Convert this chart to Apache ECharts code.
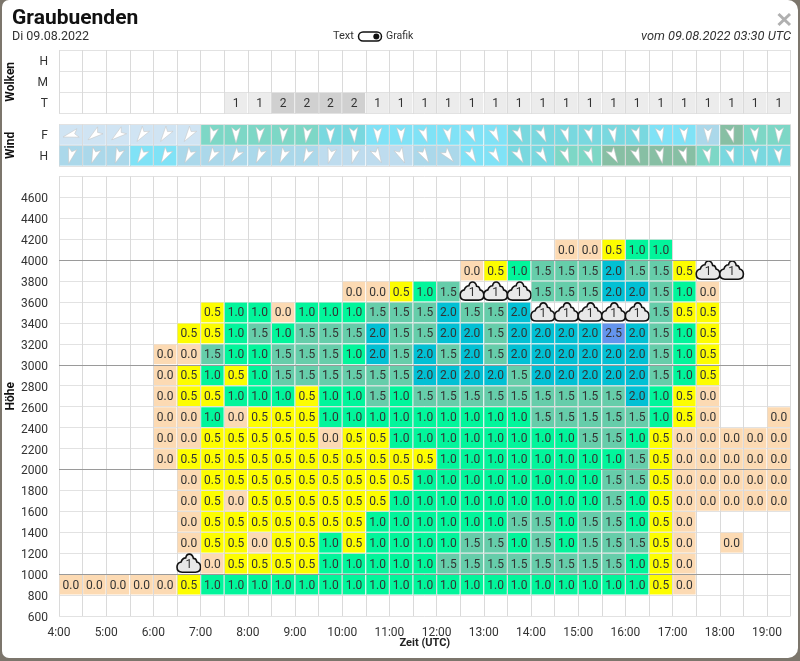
<!DOCTYPE html>
<html>
<head>
<meta charset="utf-8">
<title>Graubuenden</title>
<script src="https://cdn.jsdelivr.net/npm/echarts@6/dist/echarts.min.js"></script>
<style>
  html, body { margin: 0; padding: 0; width: 800px; height: 661px; overflow: hidden; background: #7c766c; }
  #card { position: absolute; left: 2px; top: 0; width: 796px; height: 658px; background: #fff; border-radius: 7px 10px 10px 7px; }
  #main { position: absolute; left: 0; top: 0; width: 800px; height: 661px; }
</style>
</head>
<body>
<div id="card"></div>
<div id="main"></div>
<script>
var n = null, C = "c";

// half hour columns from 4:00 to 19:30, rows named by their lower height
var h800  = [0,0,0,0,0,.5,1,1,1,1,1,1,1,1,1,1,1,1,1,1,1,1,1,1,1,.5,0,n,n,n,n];
var h1000 = [n,n,n,n,n,C,0,.5,.5,.5,.5,1,1,1,1,1,1.5,1.5,1.5,1.5,1.5,1.5,1.5,1.5,1,.5,0,n,n,n,n];
var h1200 = [n,n,n,n,n,0,.5,.5,0,.5,.5,1,.5,1,1,1,1,1.5,1.5,1,1.5,1,1.5,1.5,1.5,.5,0,n,0,n,n];
var h1400 = [n,n,n,n,n,0,.5,.5,.5,.5,.5,.5,.5,1,1,1,1,1,1,1.5,1.5,1,1.5,1.5,1,.5,0,n,n,n,n];
var h1600 = [n,n,n,n,n,0,.5,0,.5,.5,.5,.5,.5,.5,1,1,1,1,1,1,1,1,1,1.5,1,.5,0,0,0,0,0];
var h1800 = [n,n,n,n,n,0,.5,.5,.5,.5,.5,.5,.5,.5,.5,1,1,1,1,1,1,1,1,1.5,1.5,.5,0,0,0,0,0];
var h2000 = [n,n,n,n,0,.5,.5,.5,.5,.5,.5,.5,.5,.5,.5,.5,1,1,1,1,1,1,1,1,1.5,.5,0,0,0,0,0];
var h2200 = [n,n,n,n,0,0,.5,.5,.5,.5,.5,0,.5,.5,1,1,1,1,1,1,1,1,1.5,1.5,1,.5,0,0,0,0,0];
var h2400 = [n,n,n,n,0,0,1,0,.5,.5,.5,1,1,1,1,1,1,1,1,1,1.5,1.5,1.5,1.5,1.5,1,.5,0,n,n,0];
var h2600 = [n,n,n,n,0,.5,.5,1,1,1,.5,1,1,1.5,1,1.5,1.5,1.5,1.5,1.5,1.5,1.5,1.5,1.5,2,1,.5,0,n,n,n];
var h2800 = [n,n,n,n,0,.5,1,.5,1,1.5,1.5,1.5,1.5,1.5,1.5,2,2,2,2,1.5,2,2,2,2,2,1.5,1,.5,n,n,n];
var h3000 = [n,n,n,n,0,0,1.5,1,1,1.5,1.5,1.5,1,2,1.5,2,1.5,2,1.5,2,2,2,2,2,2,1.5,1,.5,n,n,n];
var h3200 = [n,n,n,n,n,.5,.5,1,1.5,1,1.5,1.5,1.5,2,1.5,1.5,2,2,1.5,2,2,2,2,2.5,2,1.5,1,.5,n,n,n];
var h3400 = [n,n,n,n,n,n,.5,1,1,0,1,1,1,1.5,1.5,1.5,2,1.5,1.5,2,C,C,C,C,C,1.5,.5,.5,n,n,n];
var h3600 = [n,n,n,n,n,n,n,n,n,n,n,n,0,0,.5,1,1.5,C,C,C,1.5,1.5,1.5,2,2,1.5,1,0,n,n,n];
var h3800 = [n,n,n,n,n,n,n,n,n,n,n,n,n,n,n,n,n,0,.5,1,1.5,1.5,1.5,2,1.5,1.5,.5,C,C,n,n];
var h4000 = [n,n,n,n,n,n,n,n,n,n,n,n,n,n,n,n,n,n,n,n,n,0,0,.5,1,1,n,n,n,n,n];
var heights = [800,1000,1200,1400,1600,1800,2000,2200,2400,2600,2800,3000,3200,3400,3600,3800,4000];
var liftRows = [h800,h1000,h1200,h1400,h1600,h1800,h2000,h2200,h2400,h2600,h2800,h3000,h3200,h3400,h3600,h3800,h4000];
var cloudInLift = 1;

var cloudRows = ["T","M","H"];
var cloudsT = [n,n,n,n,n,n,n,1,1,2,2,2,2,1,1,1,1,1,1,1,1,1,1,1,1,1,1,1,1,1,1];

var windRows = ["H","F"];
var windLevelF = [1,1,1,1,1,1,6,6,6,6,6,5,5,4,4,4,4,4,4,5,5,5,5,5,5,4,4,3,7,6,6];
var windLevelH = [3,3,3,4,4,3,3,3,3,3,3,2,2,2,2,3,3,4,4,5,5,6,6,7,7,7,7,6,5,5,5];
var windDirF = [255,232,232,215,215,215,195,180,185,185,188,180,176,180,178,162,170,155,155,155,155,165,165,170,165,170,175,180,165,175,183];
var windDirH = [195,200,200,210,210,210,210,215,205,205,205,195,195,152,155,150,140,150,150,150,150,160,160,150,160,168,165,170,165,175,175];

var liftColors = { 0: "#fcdab3", 0.5: "#fdfd00", 1: "#02f59b", 1.5: "#66cdaa", 2: "#02c0d4", 2.5: "#6495ed" };
var cloudColors = { 1: "#ececec", 2: "#d0d0d0" };
var windColors = { 1: "#d0e4f3", 2: "#bedcee", 3: "#abd8ea", 4: "#80e2f6", 5: "#79d8df", 6: "#7dd7c6", 7: "#87bfa4" };
var ink = "#333";
var arrowPoints = [[0,-8],[4.4,7.5],[0,4],[-4.4,7.5]];
var cloudPath = "M5.5 18.5C2.5 18.5 .5 16.5 .5 13.5C.5 11 2 9 4.5 8.5C5.5 5.5 7.5 4.5 9 4.5C9.5 2 11 .8 12.5 .8C14.5 .8 16 2.5 16.5 5C18 5 19.5 6.5 19.8 8.5C22 9 23.5 11 23.5 13.5C23.5 16.5 21.5 18.5 18.5 18.5Z";

function hourOf(i) { return 4 + i * 0.5; }

var liftData = [];
liftRows.forEach(function (row, r) {
  row.forEach(function (v, i) {
    if (v !== n) liftData.push([hourOf(i), heights[r], v === C ? -1 : v]);
  });
});
var cloudData = [];
cloudsT.forEach(function (v, i) { if (v !== n) cloudData.push([hourOf(i), 0, v]); });
var windData = [];
windLevelF.forEach(function (v, i) { windData.push([hourOf(i), 1, v, windDirF[i]]); });
windLevelH.forEach(function (v, i) { windData.push([hourOf(i), 0, v, windDirH[i]]); });

function labelStyle(txt, x, y, w, h) {
  return { text: txt, x: x + w / 2, y: y + h / 2, fill: ink, fontSize: 12, fontFamily: "Roboto", align: "center", verticalAlign: "middle" };
}

function renderLift(params, api) {
  var p0 = api.coord([api.value(0), api.value(1) + 200]);
  var p1 = api.coord([api.value(0) + 0.5, api.value(1)]);
  var x = p0[0], y = p0[1], w = p1[0] - x, h = p1[1] - y;
  var v = api.value(2);
  if (v === -1) {
    return {
      type: "group",
      children: [
        { type: "path", shape: { pathData: cloudPath, x: x, y: y - 0.5, width: w, height: h }, style: { fill: "#e8e8e8", stroke: "#111", lineWidth: 1.6 } },
        { type: "text", style: labelStyle(String(cloudInLift), x, y + 3, w, h - 3) }
      ]
    };
  }
  return {
    type: "rect",
    shape: { x: x + 0.6, y: y + 0.6, width: w - 1.2, height: h - 1.2 },
    style: { fill: liftColors[v] },
    textContent: { style: { text: v.toFixed(1), fill: ink, fontSize: 12, fontFamily: "Roboto" } },
    textConfig: { position: "inside", offset: [0, 1] }
  };
}

function renderCloud(params, api) {
  var c = api.coord([api.value(0) + 0.25, api.value(1)]);
  var s = api.size([0.5, 1]);
  var v = api.value(2);
  return {
    type: "rect",
    shape: { x: c[0] - s[0] / 2 + 0.6, y: c[1] - s[1] / 2 + 0.6, width: s[0] - 1.2, height: s[1] - 1.2 },
    style: { fill: cloudColors[v] },
    textContent: { style: { text: String(v), fill: ink, fontSize: 12, fontFamily: "Roboto" } },
    textConfig: { position: "inside", offset: [0, 1] }
  };
}

function renderWind(params, api) {
  var c = api.coord([api.value(0) + 0.25, api.value(1)]);
  var s = api.size([0.5, 1]);
  return {
    type: "group",
    children: [
      { type: "rect", shape: { x: c[0] - s[0] / 2 + 0.5, y: c[1] - s[1] / 2 + 0.5, width: s[0] - 1, height: s[1] - 1 }, style: { fill: windColors[api.value(2)] } },
      { type: "polygon", x: c[0], y: c[1], rotation: -api.value(3) * Math.PI / 180, shape: { points: arrowPoints }, style: { fill: "#fff", stroke: "#c4c4c4", lineWidth: 0.5 } }
    ]
  };
}

function hourLabel(v) { return v % 1 === 0 ? v + ":00" : ""; }

var gridLine = { show: true, lineStyle: { color: "#e2e2e2", width: 1 } };
var vertLine = { show: true, lineStyle: { color: "#dadada", width: 1 } };

function timeAxis(gridIndex, withLabels) {
  return {
    type: "value", gridIndex: gridIndex, min: 4, max: 19.5, interval: 0.5,
    axisLine: { show: false }, axisTick: { show: false }, splitLine: vertLine,
    axisLabel: { show: withLabels, formatter: hourLabel, color: ink, fontSize: 12, margin: 11, fontFamily: "Roboto", showMinLabel: true, showMaxLabel: false },
    name: withLabels ? "Zeit (UTC)" : "", nameLocation: "middle", nameGap: 22, nameMoveOverlap: false,
    nameTextStyle: { color: "#222", fontSize: 11, fontWeight: "bold", fontFamily: "Roboto" }
  };
}

function rowAxis(gridIndex, rows, title) {
  return {
    type: "category", gridIndex: gridIndex, data: rows,
    axisLine: { show: false }, axisTick: { show: false }, splitLine: gridLine,
    axisLabel: { color: ink, fontSize: 12, margin: 11, fontFamily: "Roboto", verticalAlign: "top", lineHeight: 2 },
    name: title, nameLocation: "middle", nameGap: 42, nameRotate: 90, nameMoveOverlap: false,
    nameTextStyle: { color: "#111", fontSize: 12, fontWeight: "bold", fontFamily: "Roboto" }
  };
}

function topText(txt, x, y, extra) {
  return { type: "text", x: x, y: y, style: Object.assign({ text: txt, fill: ink, fontSize: 12, fontFamily: "Roboto", verticalAlign: "middle" }, extra || {}) };
}

var chart = echarts.init(document.getElementById("main"), null, { renderer: "canvas" });
chart.setOption({
  animation: false,
  backgroundColor: "transparent",
  textStyle: { fontFamily: "Roboto" },
  title: { text: "Graubuenden", left: 12, top: 8, padding: 0, textStyle: { fontSize: 21, fontWeight: "bold", color: "#111", fontFamily: "Roboto" } },
  graphic: [
    topText("Di 09.08.2022", 12, 36.5, { fontSize: 12.5 }),
    topText("Text", 333, 36.5, { fontSize: 11 }),
    { type: "rect", shape: { x: 358.5, y: 32, width: 23, height: 9, r: 4.5 }, style: { fill: "#fff", stroke: "#111", lineWidth: 1.5 } },
    { type: "circle", shape: { cx: 376.3, cy: 36.5, r: 3 }, style: { fill: "#111" } },
    topText("Grafik", 386, 36.5, { fontSize: 10.5 }),
    topText("vom 09.08.2022 03:30 UTC", 791, 36.5, { fontSize: 12.8, fontStyle: "italic", align: "right" }),
    { type: "line", shape: { x1: 778.5, y1: 14, x2: 790, y2: 25 }, style: { stroke: "#b0b0b0", lineWidth: 3 } },
    { type: "line", shape: { x1: 790, y1: 14, x2: 778.5, y2: 25 }, style: { stroke: "#b0b0b0", lineWidth: 3 } }
  ],
  grid: [
    { left: 59, top: 50, width: 731.6, height: 63.6, outerBoundsMode: "none" },
    { left: 59, top: 124.5, width: 731.6, height: 41.6, outerBoundsMode: "none" },
    { left: 59, top: 176.4, width: 731.6, height: 439.6, outerBoundsMode: "none" }
  ],
  xAxis: [timeAxis(0, false), timeAxis(1, false), timeAxis(2, true)],
  yAxis: [
    rowAxis(0, cloudRows, "Wolken"),
    rowAxis(1, windRows, "Wind"),
    {
      type: "value", gridIndex: 2, min: 600, max: 4800, interval: 200,
      axisLine: { show: false }, axisTick: { show: false }, splitLine: gridLine,
      axisLabel: { color: ink, fontSize: 12, margin: 11, fontFamily: "Roboto", verticalAlign: "top", lineHeight: 4, formatter: function (v) { return v === 4800 ? "" : String(v); } },
      name: "Höhe", nameLocation: "middle", nameGap: 42, nameRotate: 90, nameMoveOverlap: false,
      nameTextStyle: { color: "#111", fontSize: 12, fontWeight: "bold", fontFamily: "Roboto" }
    }
  ],
  series: [
    {
      type: "line", xAxisIndex: 2, yAxisIndex: 2, data: [], z: 1, silent: true,
      markLine: {
        silent: true, symbol: "none", label: { show: false }, animation: false,
        lineStyle: { color: "#9a9a9a", width: 1, type: "solid" },
        data: [{ yAxis: 1000 }, { yAxis: 2000 }, { yAxis: 3000 }, { yAxis: 4000 }]
      }
    },
    { type: "custom", xAxisIndex: 0, yAxisIndex: 0, data: cloudData, renderItem: renderCloud, encode: { x: 0, y: 1 }, z: 2, silent: true },
    { type: "custom", xAxisIndex: 1, yAxisIndex: 1, data: windData, renderItem: renderWind, encode: { x: 0, y: 1 }, z: 2, silent: true },
    { type: "custom", xAxisIndex: 2, yAxisIndex: 2, data: liftData, renderItem: renderLift, encode: { x: 0, y: 1 }, z: 2, silent: true }
  ]
});
</script>
</body>
</html>
